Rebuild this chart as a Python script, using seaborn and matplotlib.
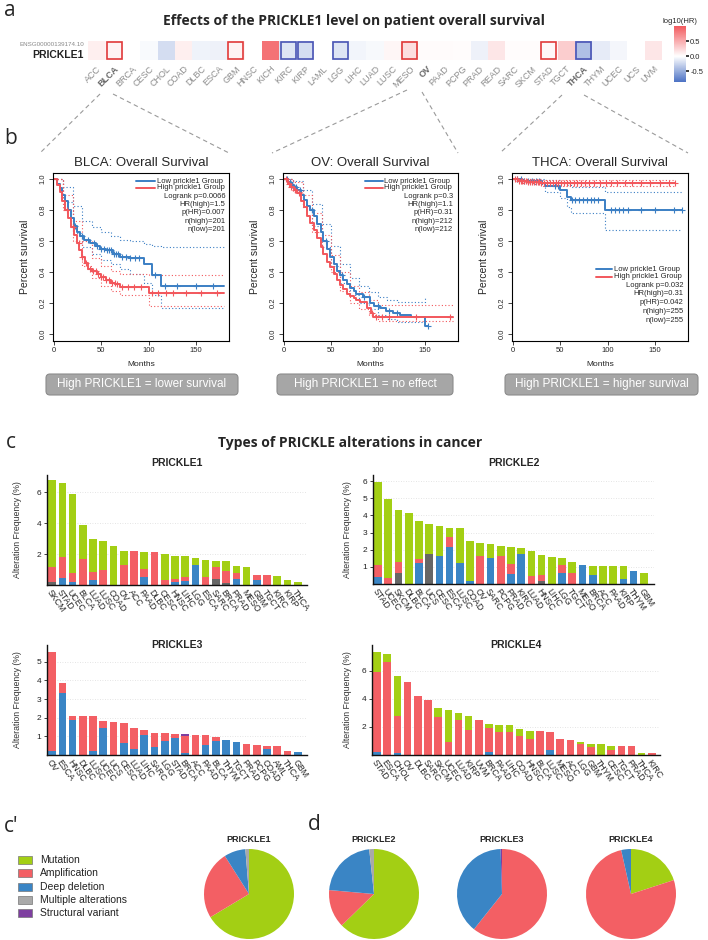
import numpy as np
import pandas as pd
import matplotlib
matplotlib.use('Agg')
import matplotlib.pyplot as plt
import seaborn as sns
from matplotlib.colors import LinearSegmentedColormap
from matplotlib.patches import Rectangle, FancyBboxPatch

# ---------------- DATA ----------------
tcga_types = ['ACC', 'BLCA', 'BRCA', 'CESC', 'CHOL', 'COAD', 'DLBC', 'ESCA', 'GBM', 'HNSC', 'KICH',
              'KIRC', 'KIRP', 'LAML', 'LGG', 'LIHC', 'LUAD', 'LUSC', 'MESO', 'OV', 'PAAD', 'PCPG',
              'PRAD', 'READ', 'SARC', 'SKCM', 'STAD', 'TGCT', 'THCA', 'THYM', 'UCEC', 'UCS', 'UVM']
log10_hr = [0.10, 0.07, 0.00, -0.03, -0.20, 0.10, -0.07, -0.08, 0.08, 0.00, 0.85,
            -0.15, -0.20, 0.00, -0.15, -0.06, -0.04, 0.06, 0.20, 0.03, 0.03, 0.02,
            -0.08, 0.15, 0.02, 0.02, 0.05, 0.30, -0.38, -0.12, -0.05, 0.00, 0.15]
sig_high = ['BLCA', 'GBM', 'MESO', 'STAD']
sig_low = ['KIRC', 'KIRP', 'LGG', 'THCA']

# Kaplan-Meier step curves (months, survival)
blca_low_t = [0, 3, 6, 9, 12, 15, 18, 21, 24, 28, 32, 38, 44, 49, 55, 62, 70, 80, 95, 104, 113, 180]
blca_low_s = [1.0, 0.97, 0.94, 0.90, 0.86, 0.80, 0.75, 0.70, 0.66, 0.63, 0.61, 0.59, 0.57, 0.55, 0.54, 0.52, 0.50, 0.49, 0.45, 0.38, 0.31, 0.31]
blca_high_t = [0, 3, 6, 9, 12, 15, 18, 21, 24, 27, 30, 33, 36, 40, 45, 50, 55, 60, 65, 70, 100, 180]
blca_high_s = [1.0, 0.96, 0.92, 0.86, 0.80, 0.75, 0.69, 0.64, 0.59, 0.54, 0.50, 0.46, 0.42, 0.41, 0.39, 0.37, 0.35, 0.33, 0.32, 0.305, 0.267, 0.267]
blca_low_ci_t = [0, 10, 20, 30, 40, 50, 60, 70, 80, 95, 104, 113, 180]
blca_low_ci_up = [1.0, 0.95, 0.83, 0.73, 0.69, 0.66, 0.63, 0.61, 0.60, 0.58, 0.57, 0.565, 0.565]
blca_low_ci_lo = [1.0, 0.85, 0.65, 0.56, 0.52, 0.48, 0.45, 0.42, 0.39, 0.33, 0.25, 0.17, 0.17]
blca_high_ci_t = [0, 10, 20, 30, 40, 50, 60, 70, 100, 180]
blca_high_ci_up = [1.0, 0.90, 0.73, 0.60, 0.49, 0.44, 0.41, 0.39, 0.38, 0.38]
blca_high_ci_lo = [1.0, 0.80, 0.60, 0.44, 0.36, 0.31, 0.28, 0.25, 0.18, 0.18]
blca_low_cens = [22, 30, 36, 42, 46, 50, 53, 56, 58, 60, 63, 66, 68, 72, 76, 80, 86, 90, 107, 117, 130, 150, 168]
blca_high_cens = [14, 20, 26, 30, 34, 38, 41, 44, 47, 50, 52, 55, 58, 61, 64, 67, 72, 78, 85, 92, 104, 110, 118, 126, 140, 155, 172]

ov_low_t = [0, 4, 7, 11, 14, 18, 21, 25, 28, 32, 35, 39, 42, 46, 49, 53, 56, 60, 63, 67, 70, 74, 77, 84, 91, 96, 102, 109, 116, 123, 135, 150, 153]
ov_low_s = [1.0, 0.98, 0.96, 0.95, 0.93, 0.90, 0.865, 0.83, 0.80, 0.76, 0.71, 0.66, 0.60, 0.55, 0.50, 0.45, 0.41, 0.38, 0.35, 0.32, 0.295, 0.275, 0.26, 0.24, 0.20, 0.18, 0.166, 0.15, 0.133, 0.12, 0.11, 0.05, 0.05]
ov_high_t = [0, 4, 7, 11, 14, 18, 21, 25, 28, 32, 35, 39, 42, 46, 49, 53, 56, 60, 63, 67, 70, 74, 77, 81, 88, 92, 95, 180]
ov_high_s = [1.0, 0.97, 0.95, 0.93, 0.91, 0.86, 0.82, 0.76, 0.72, 0.67, 0.62, 0.56, 0.52, 0.467, 0.43, 0.39, 0.35, 0.316, 0.29, 0.26, 0.245, 0.23, 0.22, 0.21, 0.166, 0.133, 0.11, 0.11]
ov_low_ci_t = [0, 10, 20, 30, 40, 50, 60, 70, 80, 90, 100, 110, 120, 150]
ov_low_ci_up = [1.0, 0.99, 0.93, 0.84, 0.71, 0.57, 0.45, 0.36, 0.31, 0.27, 0.24, 0.22, 0.21, 0.24]
ov_low_ci_lo = [1.0, 0.93, 0.82, 0.70, 0.56, 0.44, 0.33, 0.25, 0.20, 0.16, 0.12, 0.10, 0.08, 0.08]
ov_high_ci_t = [0, 10, 20, 30, 40, 50, 60, 70, 80, 90, 100, 180]
ov_high_ci_up = [1.0, 0.98, 0.90, 0.78, 0.64, 0.51, 0.40, 0.31, 0.27, 0.22, 0.19, 0.19]
ov_high_ci_lo = [1.0, 0.92, 0.82, 0.66, 0.52, 0.40, 0.28, 0.20, 0.16, 0.12, 0.085, 0.085]
ov_low_cens = [3, 6, 9, 13, 17, 30, 45, 62, 85, 100, 112, 120, 153]
ov_high_cens = [2, 5, 8, 12, 16, 94, 98, 104, 112, 140, 176]

thca_low_t = [0, 10, 31, 34, 50, 57, 61, 97.5, 179]
thca_low_s = [1.0, 0.99, 0.976, 0.955, 0.93, 0.886, 0.865, 0.80, 0.80]
thca_high_t = [0, 5, 15, 30, 171]
thca_high_s = [1.0, 0.99, 0.985, 0.975, 0.975]
thca_low_ci_t = [0, 20, 34, 50, 57, 61, 97.5, 179]
thca_low_ci_up = [1.0, 1.0, 0.995, 0.98, 0.96, 0.95, 0.92, 0.92]
thca_low_ci_lo = [1.0, 0.97, 0.92, 0.88, 0.82, 0.78, 0.675, 0.675]
thca_high_ci_t = [0, 10, 30, 171]
thca_high_ci_up = [1.0, 1.0, 0.995, 0.995]
thca_high_ci_lo = [1.0, 0.975, 0.955, 0.955]
thca_low_cens = [4, 8, 12, 16, 20, 24, 28, 44, 48, 62, 66, 70, 74, 78, 82, 86, 90, 104, 108, 112, 116, 122, 135, 150, 170, 179]
thca_high_cens = [2, 4, 6, 8, 10, 12, 14, 16, 18, 20, 22, 24, 26, 28, 30, 33, 36, 39, 42, 45, 48, 51, 54, 57, 60,
                  64, 68, 72, 76, 80, 86, 92, 98, 104, 110, 118, 126, 135, 145, 155, 165, 171]

blca_stats = ['Logrank p=0.0066', 'HR(high)=1.5', 'p(HR)=0.007', 'n(high)=201', 'n(low)=201']
ov_stats = ['Logrank p=0.3', 'HR(high)=1.1', 'p(HR)=0.31', 'n(high)=212', 'n(low)=212']
thca_stats = ['Logrank p=0.032', 'HR(high)=0.31', 'p(HR)=0.042', 'n(high)=255', 'n(low)=255']

# Alteration frequencies (%) per segment
p1_cats = ['SKCM', 'STAD', 'UCEC', 'BLCA', 'LUAD', 'LUSC', 'COAD', 'OV', 'ACC', 'PAAD', 'DLBC', 'CESC', 'HNSC',
           'LIHC', 'LGG', 'ESCA', 'SARC', 'BRCA', 'PRAD', 'MESO', 'GBM', 'TGCT', 'KIRC', 'KIRP', 'THCA']
p1_deep = [0, 0.43, 0.17, 0, 0.32, 0, 0, 0, 0, 0.54, 0, 0, 0.17, 0.26, 1.32, 0, 0, 0, 0.39, 0, 0.32, 0, 0, 0, 0]
p1_multi = [0.20, 0, 0, 0, 0, 0, 0, 0, 0, 0, 0, 0, 0, 0, 0, 0, 0.37, 0.10, 0, 0, 0, 0, 0, 0, 0]
p1_amp = [0.94, 1.36, 0.58, 1.66, 0.54, 1.00, 0, 1.30, 2.20, 0.50, 2.10, 0.32, 0.20, 0.24, 0, 0.54, 0.77, 0.82, 0.41, 0, 0.33, 0.65, 0, 0, 0]
p1_mut = [5.61, 4.81, 5.10, 2.19, 2.14, 1.85, 2.50, 0.90, 0, 1.11, 0, 1.68, 1.53, 1.35, 0.43, 1.06, 0.41, 0.63, 0.40, 1.15, 0, 0, 0.60, 0.32, 0.17]
p1_sv = [0] * 25

p2_cats = ['STAD', 'UCEC', 'SKCM', 'DLBC', 'BLCA', 'UCS', 'CESC', 'ESCA', 'LUSC', 'COAD', 'OV', 'SARC', 'PCPG', 'PRAD',
           'KIRC', 'LUAD', 'HNSC', 'LIHC', 'LGG', 'TGCT', 'MESO', 'BRCA', 'ACC', 'PAAD', 'KIRP', 'THYM', 'GBM']
p2_deep = [0.40, 0, 0, 0, 1.21, 0, 1.66, 2.16, 1.21, 0.15, 0, 1.54, 0, 0.59, 1.74, 0, 0, 0, 0.63, 0, 1.12, 0.53, 0, 0, 0.28, 0.77, 0]
p2_multi = [0, 0, 0.63, 0, 0, 1.74, 0, 0, 0, 0, 0, 0, 0, 0, 0, 0, 0.19, 0, 0, 0, 0, 0, 0, 0, 0, 0, 0]
p2_amp = [0.72, 0.34, 0.68, 0, 0.24, 0, 0, 0.57, 0, 0, 1.66, 0, 1.66, 0.58, 0, 0.48, 0.34, 0, 0.49, 0.63, 0, 0, 0, 0, 0, 0, 0]
p2_mut = [4.80, 4.59, 3.00, 4.16, 2.21, 1.76, 1.69, 0.56, 2.06, 2.34, 0.72, 0.80, 0.56, 1.01, 0.38, 1.45, 1.15, 1.60, 0.40, 0.66, 0, 0.53, 1.06, 1.06, 0.75, 0, 0.63]
p2_sv = [0] * 27

p3_cats = ['OV', 'ESCA', 'HNSC', 'DLBC', 'LUSC', 'UCEC', 'UCS', 'CESC', 'LUAD', 'LIHC', 'SARC', 'LGG', 'STAD',
           'BRCA', 'ACC', 'PAAD', 'BLCA', 'THYM', 'TGCT', 'PRAD', 'PCPG', 'COAD', 'AML', 'THCA', 'GBM']
p3_deep = [0.20, 3.31, 1.89, 0, 0.20, 1.44, 0, 0.64, 0.34, 1.08, 0.41, 0.77, 0.91, 0.09, 0, 0.54, 0.73, 0.82, 0.68, 0, 0, 0.34, 0, 0, 0.18]
p3_multi = [0] * 25
p3_amp = [5.30, 0.54, 0.21, 2.10, 1.90, 0.41, 1.76, 1.05, 1.10, 0.27, 0.77, 0.41, 0.23, 0.94, 1.09, 0.55, 0.25, 0, 0, 0.61, 0.56, 0.16, 0.50, 0.20, 0]
p3_mut = [0] * 25
p3_sv = [0, 0, 0, 0, 0, 0, 0, 0, 0, 0, 0, 0, 0, 0.09, 0, 0, 0, 0, 0, 0, 0, 0, 0, 0, 0]

p4_cats = ['STAD', 'ESCA', 'CHOL', 'OV', 'DLBC', 'SARC', 'SKCM', 'UCEC', 'LUAD', 'KIRP', 'UVM', 'BRCA', 'PAAD', 'LIHC',
           'COAD', 'HNSC', 'BLCA', 'LUSC', 'MESO', 'ACC', 'LGG', 'GBM', 'THYM', 'CESC', 'TGCT', 'PRAD', 'THCA', 'KIRC']
p4_deep = [0.20, 0, 0.14, 0, 0, 0, 0, 0, 0, 0, 0, 0.20, 0, 0, 0, 0, 0, 0.38, 0, 0, 0, 0, 0, 0, 0, 0, 0, 0]
p4_multi = [0] * 28
p4_amp = [5.73, 6.64, 2.65, 5.17, 4.19, 3.95, 2.71, 0.93, 2.48, 1.76, 2.53, 1.73, 1.62, 1.62, 1.34, 1.12, 1.69, 1.26, 1.17, 1.10, 0.76, 0.55, 0, 0.33, 0.67, 0.62, 0, 0.17]
p4_mut = [1.38, 0.55, 2.81, 0, 0, 0, 0.67, 2.31, 0.52, 1.05, 0, 0.31, 0.55, 0.53, 0.52, 0.60, 0, 0, 0, 0, 0.20, 0.26, 0.76, 0.34, 0, 0, 0.17, 0]
p4_sv = [0] * 28

alt_types = ['Mutation', 'Amplification', 'Deep deletion', 'Multiple alterations', 'Structural variant']
pie_genes = ['PRICKLE1', 'PRICKLE2', 'PRICKLE3', 'PRICKLE4']
pie_mut = [66.4, 62.7, 0.0, 20.0]
pie_amp = [24.6, 13.7, 60.7, 76.5]
pie_deep = [7.7, 21.9, 38.8, 3.5]
pie_multi = [1.3, 1.7, 0.0, 0.0]
pie_sv = [0.0, 0.0, 0.5, 0.0]

# ---------------- STYLE ----------------
GREEN = '#A3CF14'
RED = '#F35F64'
BLUE = '#3A85C5'
DGREY = '#666666'
LGREY = '#A9A9A9'
PURPLE = '#7E3FA0'
KM_BLUE = '#3B7FC4'
KM_RED = '#F2575C'

W, H = 708, 940
sns.set_theme(style='white')
plt.rcParams['font.family'] = ['Liberation Sans', 'DejaVu Sans']
TITLE_FONT = ['Open Sans', 'DejaVu Sans']

fig = plt.figure(figsize=(W / 100, H / 100), dpi=100)


def px_axes(x0, y0, x1, y1, **kw):
    return fig.add_axes([x0 / W, 1 - y1 / H, (x1 - x0) / W, (y1 - y0) / H], **kw)


def ftext(x, y, s, **kw):
    return fig.text(x / W, 1 - y / H, s, **kw)


ov = px_axes(0, 0, W, H)
ov.set_xlim(0, W)
ov.set_ylim(H, 0)
ov.axis('off')

# section letters & titles
for lab, x, y in [('a', 4, 10), ('b', 4, 138), ('c', 6, 443), ("c'", 4, 827), ('d', 308, 825)]:
    ftext(x, y, lab, fontsize=15, family=TITLE_FONT, va='center', ha='left')
ftext(354, 21, 'Effects of the PRICKLE1 level on patient overall survival', fontsize=10,
      fontweight='bold', family=TITLE_FONT, ha='center', va='center')
ftext(350, 443, 'Types of PRICKLE alterations in cancer', fontsize=10,
      fontweight='bold', family=TITLE_FONT, ha='center', va='center')

# ---------------- a: heatmap ----------------
cmap = LinearSegmentedColormap.from_list('hr', [(0, '#4C72C4'), (0.46, '#FFFFFF'), (1, '#F25A5E')])
hm_ax = px_axes(88, 41, 662, 60)
cb_ax = px_axes(674, 26, 686, 82)
hdf = pd.DataFrame([log10_hr], columns=tcga_types, index=['PRICKLE1'])
sns.heatmap(hdf, ax=hm_ax, cmap=cmap, vmin=-0.85, vmax=1.0, cbar_ax=cb_ax,
            cbar_kws={'ticks': [-0.5, 0.0, 0.5]}, xticklabels=True, yticklabels=False)
hm_ax.set_xticklabels(tcga_types, rotation=45, ha='right', rotation_mode='anchor',
                      fontsize=6.5, color='#8c8c8c')
hm_ax.tick_params(axis='x', length=0, pad=3)
hm_ax.set_xlabel('')
hm_ax.set_ylabel('')
for lab in hm_ax.get_xticklabels():
    if lab.get_text() in ('BLCA', 'OV', 'THCA'):
        lab.set_fontweight('bold')
        lab.set_color('#666666')
for i, t in enumerate(tcga_types):
    if t in sig_high or t in sig_low:
        col = '#E03A3A' if t in sig_high else '#4A55B5'
        hm_ax.add_patch(Rectangle((i + 0.07, 0.06), 0.86, 0.88, fill=False, edgecolor=col, lw=1.2))
cb_ax.set_yticklabels(['-0.5', '0.0', '0.5'])
cb_ax.tick_params(labelsize=5.5, length=2, pad=1)
cb_ax.set_title('log10(HR)', fontsize=5.5, pad=2)
ftext(84, 44, 'ENSG00000139174.10', fontsize=4.5, color='#888888', ha='right', va='center')
ftext(84, 54.5, 'PRICKLE1', fontsize=7.5, fontweight='bold', color='#222222', ha='right', va='center')

# dashed connectors
dash = dict(color='#9a9a9a', lw=0.8, ls=(0, (4, 3)))
for (x0, y0, x1, y1) in [(100, 94, 40, 153), (113, 94, 229, 153),
                         (407, 90, 272, 153), (422, 92, 458, 153),
                         (562, 95, 500, 153), (584, 95, 688, 153)]:
    ov.plot([x0, x1], [y0, y1], **dash)


# ---------------- b: survival ----------------
def step_val(t, s, c):
    t = np.asarray(t, float)
    s = np.asarray(s, float)
    idx = np.searchsorted(t, np.asarray(c, float), side='right') - 1
    return s[np.clip(idx, 0, len(s) - 1)]


def km_panel(box, title, low, high, low_ci, high_ci, low_c, high_c, stats, leg_rows, leg_x):
    ax = px_axes(*box)
    for (ct, cu, cl), col in [(low_ci, KM_BLUE), (high_ci, KM_RED)]:
        ax.step(ct, cu, where='post', color=col, lw=0.8, ls=(0, (1, 2)))
        ax.step(ct, cl, where='post', color=col, lw=0.8, ls=(0, (1, 2)))
    for (t, s), cens, col in [(low, low_c, KM_BLUE), (high, high_c, KM_RED)]:
        ax.step(t, s, where='post', color=col, lw=1.4)
        ax.plot(cens, step_val(t, s, cens), '+', color=col, ms=4.5, mew=0.8, ls='none')
    ax.set_xlim(-1, 185)
    ax.set_ylim(-0.045, 1.04)
    ax.set_xticks([0, 50, 100, 150])
    ax.set_yticks([0, 0.2, 0.4, 0.6, 0.8, 1.0])
    ax.set_yticklabels(['0.0', '0.2', '0.4', '0.6', '0.8', '1.0'], rotation=90, va='center')
    ax.tick_params(labelsize=5.5, length=3, width=0.6, direction='out', pad=1.5, left=True, bottom=True)
    for sp in ax.spines.values():
        sp.set_visible(True)
        sp.set_color('black')
        sp.set_linewidth(0.8)
    ax.set_title(title, fontsize=9.5, pad=5)
    ax.set_ylabel('Percent survival', fontsize=7.5, labelpad=7)
    ax.set_xlabel('Months', fontsize=6, labelpad=5)
    lx0, lx1, tx, sx = leg_x
    ax.plot([lx0, lx1], [leg_rows[0]] * 2, color=KM_BLUE, lw=1.4, transform=ax.transAxes)
    ax.plot([lx0, lx1], [leg_rows[1]] * 2, color=KM_RED, lw=1.4, transform=ax.transAxes)
    ax.text(tx, leg_rows[0], 'Low prickle1 Group', fontsize=5.5, va='center', ha='left', transform=ax.transAxes)
    ax.text(tx, leg_rows[1], 'High prickle1 Group', fontsize=5.5, va='center', ha='left', transform=ax.transAxes)
    for y, s in zip(leg_rows[2:], stats):
        ax.text(sx, y, s, fontsize=5.5, va='center', ha='right', transform=ax.transAxes)
    return ax


top_rows = [0.952, 0.912, 0.860, 0.812, 0.762, 0.714, 0.665]
bot_rows = [0.427, 0.383, 0.333, 0.28, 0.228, 0.175, 0.121]
km_panel((53, 173, 229, 341), 'BLCA: Overall Survival', (blca_low_t, blca_low_s), (blca_high_t, blca_high_s),
         (blca_low_ci_t, blca_low_ci_up, blca_low_ci_lo), (blca_high_ci_t, blca_high_ci_up, blca_high_ci_lo),
         blca_low_cens, blca_high_cens, blca_stats, top_rows, (0.47, 0.58, 0.59, 0.98))
km_panel((283, 173, 458, 341), 'OV: Overall Survival', (ov_low_t, ov_low_s), (ov_high_t, ov_high_s),
         (ov_low_ci_t, ov_low_ci_up, ov_low_ci_lo), (ov_high_ci_t, ov_high_ci_up, ov_high_ci_lo),
         ov_low_cens, ov_high_cens, ov_stats, top_rows, (0.47, 0.57, 0.58, 0.97))
km_panel((512, 173, 688, 341), 'THCA: Overall Survival', (thca_low_t, thca_low_s), (thca_high_t, thca_high_s),
         (thca_low_ci_t, thca_low_ci_up, thca_low_ci_lo), (thca_high_ci_t, thca_high_ci_up, thca_high_ci_lo),
         thca_low_cens, thca_high_cens, thca_stats, bot_rows, (0.48, 0.57, 0.58, 0.975))

for (x0, x1, txt) in [(46, 238, 'High PRICKLE1 = lower survival'),
                      (277, 453, 'High PRICKLE1 = no effect'),
                      (505, 698, 'High PRICKLE1 = higher survival')]:
    ov.add_patch(FancyBboxPatch((x0, 374), x1 - x0, 21, boxstyle='round,pad=0,rounding_size=4',
                                facecolor='#A6A6A6', edgecolor='#8c8c8c', lw=0.8))
    ftext((x0 + x1) / 2, 384.5, txt, color='white', fontsize=8.5, ha='center', va='center')


# ---------------- c: stacked bars ----------------
def bar_panel(box, title, title_y, cats, deep, multi, amp, mut, sv, ylim, yticks, xright, ylab_x):
    ax = px_axes(*box)
    ax.patch.set_alpha(0)
    c1 = np.asarray(deep)
    c2 = c1 + np.asarray(multi)
    c3 = c2 + np.asarray(amp)
    c4 = c3 + np.asarray(mut)
    c5 = c4 + np.asarray(sv)
    for cum, col in [(c5, PURPLE), (c4, GREEN), (c3, RED), (c2, DGREY), (c1, BLUE)]:
        sns.barplot(x=cats, y=cum, order=cats, color=col, saturation=1, width=0.75,
                    errorbar=None, ax=ax, linewidth=0)
    ax.set_xlim(-0.5, xright)
    ax.set_ylim(0, ylim)
    ax.set_yticks(yticks)
    ax.set_yticklabels([str(v) for v in yticks])
    ax.yaxis.grid(True, color='#dcdcdc', lw=0.6, ls=(0, (1, 2)))
    ax.set_axisbelow(True)
    for s in ['top', 'right']:
        ax.spines[s].set_visible(False)
    for s in ['left', 'bottom']:
        ax.spines[s].set_color('#111111')
        ax.spines[s].set_linewidth(1.0)
    ax.tick_params(axis='y', labelsize=6, length=2, width=0.6, left=True, pad=2, colors='#222222')
    ax.tick_params(axis='x', length=0, pad=2)
    ax.set_xticks(range(len(cats)))
    ax.set_xticklabels(cats, rotation=-55, ha='left', rotation_mode='anchor', fontsize=6.3)
    ax.set_ylabel('')
    ftext(ylab_x, (box[1] + box[3]) / 2, 'Alteration Frequency (%)', rotation=90, fontsize=6.3,
          color='#333333', ha='center', va='center')
    ftext((box[0] + box[2]) / 2, title_y, title, fontsize=7.5, fontweight='bold', ha='center', va='center')
    return ax


bar_panel((47, 475, 307, 585), 'PRICKLE1', 463, p1_cats, p1_deep, p1_multi, p1_amp, p1_mut, p1_sv,
          7.1, [2, 4, 6], 24.9, 18)
bar_panel((373, 475, 654, 584), 'PRICKLE2', 463, p2_cats, p2_deep, p2_multi, p2_amp, p2_mut, p2_sv,
          6.35, [1, 2, 3, 4, 5, 6], 27.0, 347)
bar_panel((47, 645, 307, 755), 'PRICKLE3', 645, p3_cats, p3_deep, p3_multi, p3_amp, p3_mut, p3_sv,
          5.9, [1, 2, 3, 4, 5], 24.9, 18)
bar_panel((372, 645, 660, 755), 'PRICKLE4', 645, p4_cats, p4_deep, p4_multi, p4_amp, p4_mut, p4_sv,
          7.84, [2, 4, 6], 27.8, 347)

# ---------------- c': legend ----------------
leg_cols = [GREEN, RED, BLUE, LGREY, PURPLE]
for k, (name, col) in enumerate(zip(alt_types, leg_cols)):
    y = 860 + k * 13.3
    ov.add_patch(Rectangle((18, y - 4), 14, 8, facecolor=col, edgecolor='#777777', lw=0.5))
    ftext(40, y, name, fontsize=7.5, va='center', ha='left', color='#222222')

# ---------------- d: pies ----------------
pie_cx = [249, 374, 502, 631]
for g, cx, m, a, d, mu, s in zip(pie_genes, pie_cx, pie_mut, pie_amp, pie_deep, pie_multi, pie_sv):
    pax = px_axes(cx - 45, 849, cx + 45, 939)
    pax.pie([m, a, d, mu, s], colors=[GREEN, RED, BLUE, LGREY, PURPLE], startangle=90,
            counterclock=False, wedgeprops=dict(linewidth=0), radius=1.0)
    pax.set_xlim(-1.0, 1.0)
    pax.set_ylim(-1.0, 1.0)
    pax.set_aspect('equal')
    ftext(cx, 840, g, fontsize=6.5, fontweight='bold', ha='center', va='center')

fig.savefig('out.png', dpi=100)
